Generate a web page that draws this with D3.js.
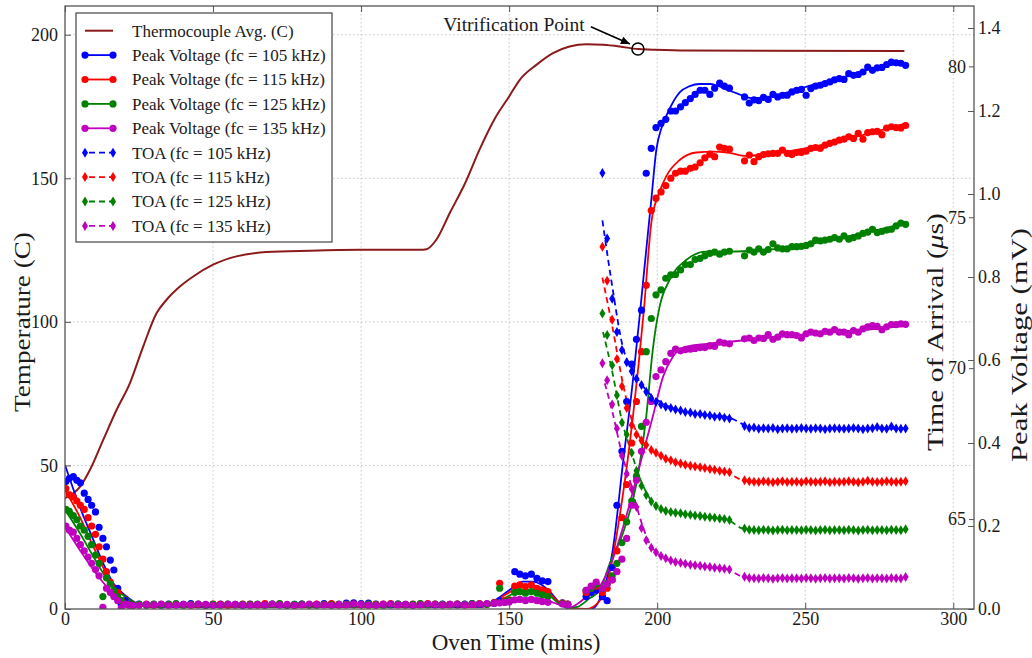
<!DOCTYPE html>
<html><head><meta charset="utf-8">
<script src="https://cdn.jsdelivr.net/npm/d3@7"></script>
<style>
body{margin:0;background:#fff;}
svg{display:block;}
text{font-family:"Liberation Serif","Times New Roman",serif;fill:#1a1a1a;}
</style>
</head><body>
<svg id="c" width="1032" height="658"></svg>
<script>
// ---------------- DATA ----------------
const xTicks = [0,50,100,150,200,250,300];
const tempTicks = [0,50,100,150,200];
const voltTicks = [0.0,0.2,0.4,0.6,0.8,1.0,1.2,1.4];
const toaTicks = [65,70,75,80];

const freqs = ["105","115","125","135"];
const colors = ["#0000ff","#ff0000","#008000","#bf00bf"];

// Thermocouple average (C)
const tcTime = [0,5.1,8.4,12.9,17.4,21.9,26.4,30.9,34.3,38.8,43.3,50,57.9,68,82.7,99.6,119.8,122.1,125.4,130,135,140,145,150,153.6,159.2,164.8,170.4,176.1,181.7,187.3,193.5,198.5,209.8,283.5];
const tcTemp = [38.6,42.6,48.4,58.9,69.3,78.6,91.4,103,107.7,112.3,115.8,119.9,122.8,124.3,124.8,125.1,125.1,125.3,128.6,138,148,160,170.5,178.5,184.3,189.5,193.6,195.9,196.7,196.5,195.9,195,194.8,194.5,194.3];

// Peak voltage samples before the cure rise (mV)
const preTimes = [0.3,1.5,2.8,4.0,5.2,6.5,7.8,9.0,10.3,11.5,12.8,14.0,15.3,16.5,17.8,19.0,20.3,21.5,22.8,
 25,27.5,30,32.5,35,37.5,40,42.5,45,47.5,50,52.5,55,57.5,60,62.5,65,67.5,70,72.5,75,77.5,80,82.5,85,87.5,90,92.5,95,97.5,100,102.5,105,107.5,110,112.5,115,117.5,120,122.5,125,127.5,130,132.5,135,137.5,140,142.5,145,146.8,148.5,150,
 151.9,153.6,155.5,157.5,159.4,161.2,163.1,
 168,169.8,176,177.7,179.4];
const pv105Pre = [0.307,0.315,0.319,0.31,0.304,0.279,0.264,0.25,0.234,0.197,0.17,0.15,0.118,0.094,0.05,0.01,0.02,0.012,0.008,
 0.012,0.01,0.011,0.009,0.012,0.01,0.011,0.013,0.01,0.009,0.011,0.012,0.01,0.011,0.009,0.012,0.01,0.011,0.012,0.01,0.009,0.011,0.012,0.01,0.011,0.013,0.012,0.01,0.014,0.015,0.013,0.014,0.012,0.011,0.01,0.012,0.011,0.01,0.012,0.011,0.01,0.012,0.011,0.01,0.012,0.013,0.011,0.012,0.014,0.02,0.016,0.018,
 0.09,0.084,0.08,0.084,0.074,0.068,0.066,
 0.015,0.012,0.03,0.04,0.045];
const pv115Pre = [0.29,0.275,0.27,0.26,0.25,0.24,0.22,0.2,0.18,0.15,0.12,0.09,0.065,0.036,0.04,0.02,0.012,0.01,0.008,
 0.01,0.012,0.009,0.011,0.01,0.012,0.01,0.009,0.011,0.01,0.012,0.011,0.009,0.01,0.012,0.011,0.01,0.013,0.011,0.012,0.01,0.009,0.011,0.01,0.012,0.011,0.013,0.01,0.011,0.012,0.01,0.009,0.011,0.012,0.013,0.011,0.01,0.012,0.011,0.013,0.012,0.01,0.011,0.012,0.01,0.011,0.013,0.012,0.016,0.062,0.02,0.022,
 0.055,0.058,0.054,0.058,0.05,0.046,0.042,
 0.014,0.012,0.04,0.05,0.055];
const pv125Pre = [0.24,0.235,0.225,0.215,0.2,0.19,0.175,0.155,0.13,0.11,0.03,0.075,0.06,0.045,0.03,0.02,0.012,0.01,0.009,
 0.011,0.009,0.012,0.01,0.011,0.013,0.009,0.011,0.012,0.01,0.011,0.009,0.012,0.01,0.011,0.01,0.012,0.009,0.011,0.013,0.01,0.011,0.012,0.01,0.009,0.011,0.01,0.012,0.011,0.01,0.011,0.012,0.01,0.009,0.011,0.012,0.01,0.011,0.013,0.01,0.012,0.011,0.01,0.012,0.011,0.013,0.012,0.011,0.015,0.05,0.018,0.02,
 0.04,0.042,0.038,0.042,0.038,0.034,0.03,
 0.013,0.01,0.045,0.05,0.06];
const pv135Pre = [0.2,0.19,0.185,0.17,0.155,0.14,0.125,0.11,0.095,0.08,0.004,0.05,0.04,0.03,0.02,0.003,0.012,0.01,0.008,
 0.009,0.011,0.01,0.012,0.009,0.01,0.011,0.01,0.012,0.011,0.009,0.01,0.012,0.011,0.01,0.009,0.011,0.01,0.012,0.01,0.011,0.009,0.01,0.012,0.011,0.01,0.009,0.011,0.01,0.012,0.011,0.01,0.009,0.011,0.012,0.01,0.011,0.009,0.01,0.012,0.011,0.01,0.011,0.012,0.01,0.011,0.012,0.013,0.014,0.015,0.016,0.017,
 0.022,0.023,0.02,0.023,0.02,0.018,0.016,
 0.012,0.01,0.045,0.055,0.065];

// Samples during and after the rise (shared by peak voltage and TOA)
const riseTimes = [181.5,183.1,184.8,186.4,188.1,189.7,191.4,193.0,194.7,196.3,198.0,199.6,201.3,202.9,204.6,206.2,207.9,209.5,211.2,212.8,214.5,216.1,217.8,219.4,221.1,222.7,224.4,
 229.5,231.1,232.7,234.3,235.9,237.5,239.1,240.7,242.3,243.9,245.5,247.1,248.7,250.3,251.9,253.5,255.1,256.7,258.3,259.9,261.5,263.1,264.7,266.3,267.9,269.5,271.1,272.7,274.3,275.9,277.5,279.1,280.7,282.3,283.9];
const pv105Rise = [0.03,0.02,0.10,0.25,0.38,0.50,0.59,0.65,0.72,1.05,1.11,1.16,1.17,1.18,1.20,1.20,1.21,1.22,1.23,1.24,1.25,1.25,1.24,1.255,1.267,1.26,1.255,
 1.234,1.219,1.227,1.225,1.233,1.228,1.24,1.234,1.238,1.238,1.246,1.25,1.252,1.238,1.254,1.26,1.262,1.266,1.27,1.275,1.278,1.276,1.29,1.286,1.288,1.294,1.306,1.298,1.304,1.305,1.312,1.318,1.316,1.315,1.31];
const pv115Rise = [0.04,0.05,0.07,0.14,0.22,0.30,0.40,0.50,0.62,0.78,0.96,0.99,1.005,1.02,1.038,1.05,1.055,1.055,1.062,1.065,1.075,1.087,1.096,1.09,1.113,1.11,1.108,
 1.08,1.094,1.078,1.09,1.095,1.097,1.098,1.098,1.106,1.098,1.095,1.1,1.1,1.103,1.11,1.112,1.11,1.118,1.122,1.125,1.13,1.132,1.138,1.134,1.146,1.132,1.148,1.15,1.151,1.143,1.159,1.162,1.16,1.159,1.165];
const pv125Rise = [0.05,0.06,0.08,0.11,0.16,0.21,0.26,0.32,0.44,0.62,0.70,0.757,0.769,0.797,0.805,0.806,0.817,0.83,0.83,0.842,0.845,0.851,0.857,0.86,0.855,0.86,0.862,
 0.851,0.865,0.86,0.868,0.86,0.866,0.88,0.87,0.868,0.868,0.873,0.873,0.874,0.876,0.88,0.889,0.887,0.889,0.891,0.895,0.891,0.899,0.891,0.895,0.899,0.905,0.908,0.915,0.907,0.91,0.913,0.915,0.923,0.93,0.927];
const pv135Rise = [0.05,0.06,0.07,0.09,0.12,0.17,0.25,0.31,0.38,0.45,0.50,0.56,0.576,0.596,0.616,0.626,0.622,0.625,0.626,0.628,0.63,0.63,0.634,0.633,0.643,0.641,0.639,
 0.651,0.653,0.647,0.653,0.652,0.661,0.65,0.655,0.663,0.661,0.661,0.659,0.653,0.663,0.667,0.665,0.663,0.669,0.667,0.673,0.667,0.667,0.661,0.671,0.667,0.675,0.68,0.683,0.681,0.673,0.68,0.685,0.685,0.687,0.686];

// Time of arrival (us)
const toa105 = [76.47,74.3,72.3,71.2,70.6,70.2,69.9,69.65,69.44,69.22,69.0,68.88,68.8,68.72,68.68,68.63,68.6,68.55,68.53,68.48,68.48,68.45,68.43,68.39,68.4,68.36,68.33,
 68.08,68.02,68.03,67.99,68.01,68.0,68.02,67.98,68.0,68.01,67.99,68.0,68.02,68.0,67.99,68.01,68.0,67.98,68.0,68.01,68.0,67.99,68.0,68.02,68.0,67.98,68.0,68.01,68.05,68.0,67.99,68.07,68.0,67.99,68.0];
const toa115 = [74.02,72.9,71.6,70.3,69.4,68.68,68.12,67.8,67.6,67.45,67.29,67.2,67.1,67.0,66.95,66.88,66.84,66.8,66.77,66.74,66.72,66.69,66.66,66.63,66.6,66.58,66.55,
 66.29,66.25,66.24,66.23,66.25,66.24,66.22,66.24,66.25,66.23,66.24,66.24,66.22,66.25,66.24,66.23,66.24,66.25,66.22,66.24,66.23,66.24,66.25,66.24,66.22,66.24,66.27,66.24,66.23,66.24,66.25,66.24,66.23,66.24,66.25];
const toa125 = [71.81,71.1,70.1,69.1,68.2,67.8,67.2,66.6,66.1,65.8,65.58,65.43,65.33,65.27,65.23,65.21,65.19,65.16,65.14,65.12,65.1,65.08,65.06,65.04,65.02,65.0,64.97,
 64.69,64.65,64.64,64.63,64.65,64.64,64.62,64.64,64.65,64.63,64.64,64.64,64.63,64.65,64.64,64.62,64.64,64.65,64.63,64.64,64.64,64.63,64.65,64.64,64.62,64.64,64.65,64.63,64.64,64.64,64.63,64.65,64.64,64.63,64.66];
const toa135 = [70.16,69.6,68.8,68.0,67.1,66.5,66.0,65.4,64.7,64.3,64.05,63.9,63.78,63.7,63.63,63.58,63.55,63.52,63.49,63.47,63.45,63.43,63.41,63.39,63.37,63.35,63.33,
 63.09,63.05,63.04,63.03,63.05,63.04,63.02,63.04,63.05,63.03,63.04,63.04,63.03,63.05,63.04,63.02,63.04,63.05,63.03,63.04,63.04,63.03,63.05,63.04,63.02,63.04,63.05,63.03,63.04,63.04,63.03,63.05,63.04,63.03,63.08];

// Fitted curves: [time, peak voltage]
const fitPv105 = [[0,0.347],[5,0.246],[9.6,0.166],[12.9,0.11],[16.3,0.062],[20.8,0.03],[25.3,0.01],[30,0.005],[140,0.005],[145,0.02],[150,0.045],[154.7,0.066],[158,0.066],[161,0.058],[164,0.04],[167,0.015],[170.4,0.0],[177.7,0.0],[181,0.03],[185,0.142],[188.3,0.343],[191.7,0.544],[194,0.70],[196.3,0.865],[198,0.985],[199.7,1.106],[201.5,1.16],[203.5,1.195],[207.6,1.245],[211,1.26],[214.3,1.265],[218,1.265],[221,1.259],[224,1.25],[226.7,1.243],[232,1.231],[236,1.232],[241,1.239],[252.5,1.263],[263.8,1.283],[275,1.307],[283.5,1.315]];
const fitPv115 = [[0,0.287],[5,0.222],[9.6,0.15],[15.2,0.07],[20.8,0.028],[25.3,0.01],[30,0.005],[140,0.005],[145,0.018],[150,0.04],[155,0.055],[158,0.055],[161,0.05],[164,0.035],[167,0.015],[170.4,0.002],[176,0.0],[180.6,0.02],[184,0.09],[187.3,0.222],[191.8,0.463],[195.5,0.72],[198,0.93],[200.5,1.0],[203,1.042],[207.6,1.082],[213.2,1.1],[218.7,1.102],[224.4,1.099],[230,1.092],[235.6,1.094],[247,1.106],[258,1.122],[269.4,1.142],[283.5,1.169]];
const fitPv125 = [[0,0.239],[5,0.183],[9.6,0.126],[15.2,0.062],[20.8,0.027],[25.3,0.01],[30,0.005],[140,0.005],[145,0.015],[150,0.032],[155,0.046],[158,0.046],[161,0.042],[164,0.03],[167,0.012],[170.4,0.003],[173,0.005],[177,0.025],[180.6,0.045],[184,0.11],[188.4,0.182],[193,0.303],[196.3,0.463],[198.5,0.624],[200.8,0.728],[204.2,0.793],[209.8,0.841],[216.6,0.861],[224.4,0.861],[235.7,0.865],[247,0.873],[258,0.889],[269.4,0.905],[284.5,0.931]];
const fitPv135 = [[0,0.198],[5,0.142],[9.6,0.094],[15.2,0.046],[20.8,0.018],[25.3,0.008],[30,0.005],[140,0.005],[145,0.01],[150,0.018],[155,0.026],[158,0.026],[161,0.024],[164,0.018],[167,0.01],[170.4,0.003],[173,0.012],[177,0.035],[180.6,0.055],[185,0.12],[189.5,0.222],[194,0.343],[198.5,0.463],[202,0.56],[205.3,0.608],[209.8,0.632],[216.6,0.639],[224.4,0.644],[235.7,0.652],[247,0.66],[258,0.668],[269.4,0.672],[284.5,0.684]];

// Fitted TOA curves: [time, us]
const fitToa105 = [[181.5,74.9],[185,72.6],[188.4,70.7],[191.8,69.93],[196.3,69.27],[202,68.83],[207.6,68.6],[215,68.47],[223.3,68.39],[228.4,68.17],[231,68.02],[283.9,68.0]];
const fitToa115 = [[181.5,73.0],[185,71.3],[188.4,69.5],[191.7,68.2],[195.7,67.5],[200.8,67.12],[207.6,66.84],[216.6,66.68],[223.3,66.57],[228.4,66.3],[231,66.25],[283.9,66.24]];
const fitToa125 = [[181.7,71.2],[185,69.8],[188,68.3],[191,67.3],[194,66.4],[197.4,65.7],[200.8,65.35],[207.6,65.19],[216.6,65.08],[223.9,64.97],[228.4,64.7],[231,64.65],[283.9,64.64]];
const fitToa135 = [[182.3,69.5],[185,68.5],[188,67.2],[191,66.2],[194,65.1],[197.4,64.2],[200.8,63.81],[207.6,63.55],[216.6,63.43],[223.9,63.33],[228.4,63.1],[231,63.05],[283.9,63.04]];

// Vitrification point annotation (data coordinates)
const vitPoint = [193.5, 195.0];
const vitLabel = "Vitrification Point";

// ---------------- DRAW ----------------
const svg = d3.select("#c");
const L=65, R=974, T=6, B=609;
const x  = d3.scaleLinear().domain([0,307]).range([L,R]);
const yT = d3.scaleLinear().domain([0,210]).range([B,T]);
const yV = d3.scaleLinear().domain([0,1.453]).range([B,T]);
const yA = d3.scaleLinear().domain([62.02,82.0]).range([B,T]);

const pvPre  = [pv105Pre,pv115Pre,pv125Pre,pv135Pre];
const pvRise = [pv105Rise,pv115Rise,pv125Rise,pv135Rise];
const toas   = [toa105,toa115,toa125,toa135];
const fitsPv = [fitPv105,fitPv115,fitPv125,fitPv135];
const fitsToa= [fitToa105,fitToa115,fitToa125,fitToa135];

svg.append("defs").append("clipPath").attr("id","clip")
  .append("rect").attr("x",L).attr("y",T).attr("width",R-L).attr("height",B-T);

// grid
const grid = svg.append("g").attr("stroke","#b8b8b8").attr("stroke-width",0.8).attr("stroke-dasharray","1.5,2.5");
xTicks.filter(d=>d>0).forEach(d=>grid.append("line").attr("x1",x(d)).attr("x2",x(d)).attr("y1",T).attr("y2",B));
tempTicks.filter(d=>d>0).forEach(d=>grid.append("line").attr("x1",L).attr("x2",R).attr("y1",yT(d)).attr("y2",yT(d)));

const plot = svg.append("g").attr("clip-path","url(#clip)");

// thermocouple
const tcData = tcTime.map((t,i)=>[t,tcTemp[i]]);
plot.append("path").datum(tcData)
  .attr("fill","none").attr("stroke","#8b1a1a").attr("stroke-width",2)
  .attr("d", d3.line().x(d=>x(d[0])).y(d=>yT(d[1])).curve(d3.curveMonotoneX));

// peak voltage fits
const lineV = d3.line().x(d=>x(d[0])).y(d=>yV(d[1])).curve(d3.curveMonotoneX);
fitsPv.forEach((f,i)=>{
  plot.append("path").datum(f).attr("fill","none").attr("stroke",colors[i]).attr("stroke-width",1.8).attr("d",lineV);
});

// TOA dashed fits
const lineA = d3.line().x(d=>x(d[0])).y(d=>yA(d[1])).curve(d3.curveMonotoneX);
fitsToa.forEach((f,i)=>{
  plot.append("path").datum(f).attr("fill","none").attr("stroke",colors[i]).attr("stroke-width",1.8)
    .attr("stroke-dasharray","6,4").attr("d",lineA);
});

// peak voltage markers
pvPre.forEach((arr,i)=>{
  const pts = preTimes.map((t,j)=>[t,arr[j]]).concat(riseTimes.map((t,j)=>[t,pvRise[i][j]]));
  plot.append("g").selectAll("circle").data(pts).join("circle")
    .attr("cx",d=>x(d[0])).attr("cy",d=>yV(d[1])).attr("r",3.6).attr("fill",colors[i]);
});

// TOA markers (thin diamonds)
const diamond = "M0,-5L3,0L0,5L-3,0Z";
toas.forEach((arr,i)=>{
  const pts = riseTimes.map((t,j)=>[t,arr[j]]);
  plot.append("g").selectAll("path").data(pts).join("path")
    .attr("d",diamond).attr("transform",d=>`translate(${x(d[0])},${yA(d[1])})`).attr("fill",colors[i]);
});

// frame
svg.append("rect").attr("x",L).attr("y",T).attr("width",R-L).attr("height",B-T)
  .attr("fill","none").attr("stroke","#555").attr("stroke-width",1.3);

// axes
const fontTick = "18px";
function styleAxis(g){ g.select(".domain").remove(); g.selectAll(".tick line").attr("stroke","#555"); g.selectAll("text").style("font-size",fontTick).attr("fill","#1a1a1a").style("font-family","'Liberation Serif',serif"); }

svg.append("g").attr("transform",`translate(0,${B})`)
  .call(d3.axisBottom(x).tickValues(xTicks).tickSizeInner(-6).tickSizeOuter(0).tickPadding(3).tickFormat(d3.format("d")))
  .call(styleAxis);
svg.append("g").attr("transform",`translate(0,${T})`)
  .call(d3.axisTop(x).tickValues(xTicks).tickSizeInner(-6).tickSizeOuter(0).tickFormat(""))
  .call(styleAxis);
svg.append("g").attr("transform",`translate(${L},0)`)
  .call(d3.axisLeft(yT).tickValues(tempTicks).tickSizeInner(-6).tickSizeOuter(0).tickPadding(7).tickFormat(d3.format("d")))
  .call(styleAxis);
svg.append("g").attr("transform",`translate(${R},0)`)
  .call(d3.axisRight(yV).tickValues(voltTicks).tickSizeInner(-6).tickSizeOuter(0).tickPadding(4).tickFormat(d3.format(".1f")))
  .call(styleAxis);
svg.append("g").attr("transform",`translate(${R},0)`)
  .call(d3.axisLeft(yA).tickValues(toaTicks).tickSizeInner(5).tickSizeOuter(0).tickPadding(3).tickFormat(d3.format("d")))
  .call(styleAxis);

// axis labels
const fontLab = "23px";
svg.append("text").attr("x",516).attr("y",650).attr("text-anchor","middle").style("font-size",fontLab).text("Oven Time (mins)");

// vertical labels: stretched along their length to the reference's extent
function vLabel(cx, cy, targetLen, build){
  const t = svg.append("text").attr("text-anchor","middle").style("font-size",fontLab);
  build(t);
  const len = t.node().getComputedTextLength() || targetLen;
  t.attr("transform",`translate(${cx},${cy}) rotate(-90) scale(${targetLen/len},1)`);
  return t;
}
vLabel(30, 322, 180, t=>t.text("Temperature (C)"));
vLabel(943, 332, 238, t=>{
  t.append("tspan").text("Time of Arrival (");
  t.append("tspan").style("font-style","italic").text("μ");
  t.append("tspan").text("s)");
});
vLabel(1027, 345, 234, t=>t.text("Peak Voltage (mV)"));

// vitrification annotation
const vx = x(vitPoint[0]), vy = yT(vitPoint[1]);
svg.append("circle").attr("cx",vx).attr("cy",vy).attr("r",6).attr("fill","none").attr("stroke","#000").attr("stroke-width",1.5);
const ax0 = x(177.6), ay0 = yT(202.8), ax1 = vx-8, ay1 = vy-5;
svg.append("line").attr("x1",ax0).attr("y1",ay0).attr("x2",ax1).attr("y2",ay1).attr("stroke","#000").attr("stroke-width",1.6);
{
  const ang = Math.atan2(ay1-ay0, ax1-ax0), hl=9, hw=4;
  const bx = ax1 - hl*Math.cos(ang), by = ay1 - hl*Math.sin(ang);
  const px = -Math.sin(ang)*hw, py = Math.cos(ang)*hw;
  svg.append("path").attr("d",`M${ax1},${ay1}L${bx+px},${by+py}L${bx-px},${by-py}Z`).attr("fill","#000");
}
svg.append("text").attr("x",x(175.5)).attr("y",yT(201.2)).attr("text-anchor","end").style("font-size","19.5px").text(vitLabel);

// legend
const lg = svg.append("g");
lg.append("rect").attr("x",76).attr("y",13).attr("width",256).attr("height",229).attr("fill","#fff").attr("stroke","#444").attr("stroke-width",1.2);
const entries = [{label:"Thermocouple Avg. (C)", color:"#8b1a1a", type:"tc"}]
  .concat(freqs.map((f,i)=>({label:`Peak Voltage (fc = ${f} kHz)`, color:colors[i], type:"pv"})))
  .concat(freqs.map((f,i)=>({label:`TOA (fc = ${f} kHz)`, color:colors[i], type:"toa"})));
entries.forEach((e,i)=>{
  const cy = 30.7 + i*24.4;
  const x0 = 85, x1 = 113;
  if(e.type==="tc"){
    lg.append("line").attr("x1",x0).attr("x2",x1).attr("y1",cy).attr("y2",cy).attr("stroke",e.color).attr("stroke-width",2);
  } else if(e.type==="pv"){
    lg.append("line").attr("x1",x0).attr("x2",x1).attr("y1",cy).attr("y2",cy).attr("stroke",e.color).attr("stroke-width",1.8);
    [x0,x1].forEach(xx=>lg.append("circle").attr("cx",xx).attr("cy",cy).attr("r",3.6).attr("fill",e.color));
  } else {
    lg.append("line").attr("x1",x0).attr("x2",x1).attr("y1",cy).attr("y2",cy).attr("stroke",e.color).attr("stroke-width",1.8).attr("stroke-dasharray","6,4").attr("stroke-dashoffset",-4);
    [x0,x1].forEach(xx=>lg.append("path").attr("d",diamond).attr("transform",`translate(${xx},${cy})`).attr("fill",e.color));
  }
  lg.append("text").attr("x",132).attr("y",cy).attr("dy","0.35em").style("font-size","17px").text(e.label);
});
</script>
</body></html>
